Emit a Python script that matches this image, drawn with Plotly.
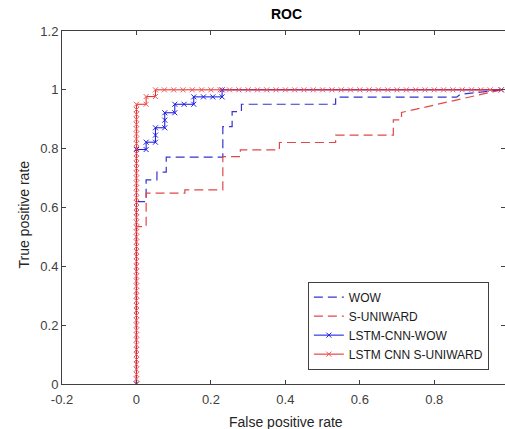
import plotly.graph_objects as go

# ---- data ----
wow_fpr = [0.0, 0.0, 0.026, 0.026, 0.055, 0.055, 0.08, 0.08, 0.232, 0.232, 0.257, 0.257,
           0.282, 0.282, 0.535, 0.535, 0.86, 0.87, 0.98]
wow_tpr = [0.0, 0.62, 0.62, 0.694, 0.694, 0.72, 0.72, 0.771, 0.771, 0.875, 0.875, 0.926,
           0.926, 0.951, 0.951, 0.975, 0.975, 0.985, 1.0]

suni_fpr = [0.0, 0.0, 0.026, 0.026, 0.13, 0.13, 0.232, 0.232, 0.279, 0.279, 0.384, 0.384,
            0.535, 0.535, 0.69, 0.69, 0.712, 0.712, 0.98]
suni_tpr = [0.0, 0.535, 0.535, 0.649, 0.649, 0.66, 0.66, 0.773, 0.773, 0.796, 0.796, 0.821,
            0.821, 0.846, 0.846, 0.898, 0.898, 0.923, 1.0]

lstm_wow_fpr = [0.0, 0.0, 0.026, 0.026, 0.051, 0.051, 0.051, 0.076, 0.076, 0.076, 0.103,
                0.103, 0.128, 0.154, 0.154, 0.18, 0.205, 0.23, 0.23, 0.98]
lstm_wow_tpr = [0.0, 0.797, 0.797, 0.822, 0.822, 0.846, 0.871, 0.871, 0.897, 0.922, 0.922,
                0.951, 0.951, 0.951, 0.976, 0.976, 0.976, 0.976, 1.0, 1.0]

lstm_suni_fpr = [0.0, 0.0, 0.0, 0.0, 0.0, 0.0, 0.0, 0.0, 0.0, 0.0,
                 0.0, 0.0, 0.0, 0.0, 0.0, 0.0, 0.0, 0.0, 0.0, 0.0,
                 0.0, 0.0, 0.0, 0.0, 0.0, 0.0, 0.0, 0.0, 0.0, 0.0,
                 0.0, 0.0, 0.0, 0.0, 0.0, 0.0, 0.0, 0.0, 0.0, 0.0,
                 0.0, 0.0, 0.0, 0.0, 0.0, 0.0, 0.0, 0.0, 0.0, 0.0,
                 0.0, 0.0, 0.0, 0.0, 0.0, 0.0, 0.0, 0.0,
                 0.026, 0.026, 0.051, 0.051,
                 0.075, 0.1, 0.125, 0.15, 0.175, 0.2, 0.225, 0.25, 0.275, 0.3,
                 0.325, 0.35, 0.375, 0.4, 0.425, 0.45, 0.475, 0.5, 0.525, 0.55,
                 0.575, 0.6, 0.625, 0.65, 0.675, 0.7, 0.725, 0.75, 0.775, 0.8,
                 0.825, 0.85, 0.875, 0.9, 0.925, 0.95, 0.98]
lstm_suni_tpr = [0.0, 0.017, 0.033, 0.05, 0.067, 0.083, 0.1, 0.117, 0.133, 0.15,
                 0.167, 0.183, 0.2, 0.217, 0.233, 0.25, 0.267, 0.283, 0.3, 0.317,
                 0.333, 0.35, 0.367, 0.383, 0.4, 0.417, 0.433, 0.45, 0.467, 0.483,
                 0.5, 0.517, 0.533, 0.55, 0.567, 0.583, 0.6, 0.617, 0.633, 0.65,
                 0.667, 0.683, 0.7, 0.717, 0.733, 0.75, 0.767, 0.783, 0.8, 0.817,
                 0.833, 0.85, 0.867, 0.883, 0.9, 0.917, 0.933, 0.951,
                 0.951, 0.977, 0.977, 1.0,
                 1.0, 1.0, 1.0, 1.0, 1.0, 1.0, 1.0, 1.0, 1.0, 1.0,
                 1.0, 1.0, 1.0, 1.0, 1.0, 1.0, 1.0, 1.0, 1.0, 1.0,
                 1.0, 1.0, 1.0, 1.0, 1.0, 1.0, 1.0, 1.0, 1.0, 1.0,
                 1.0, 1.0, 1.0, 1.0, 1.0, 1.0, 1.0]

x_ticks = [-0.2, 0, 0.2, 0.4, 0.6, 0.8]
x_tick_labels = ["-0.2", "0", "0.2", "0.4", "0.6", "0.8"]
y_ticks = [0, 0.2, 0.4, 0.6, 0.8, 1, 1.2]
y_tick_labels = ["0", "0.2", "0.4", "0.6", "0.8", "1", "1.2"]

FONT = "Liberation Sans, Arial, sans-serif"
TXT = "#262626"
AX = "#404040"

fig = go.Figure()
fig.add_trace(go.Scatter(x=wow_fpr, y=wow_tpr, mode="lines", name="WOW",
                         line=dict(color="#3535cc", width=1.2, dash="9px,5px")))
fig.add_trace(go.Scatter(x=suni_fpr, y=suni_tpr, mode="lines", name="S-UNIWARD",
                         line=dict(color="#e04848", width=1.2, dash="9px,5px")))
fig.add_trace(go.Scatter(x=lstm_wow_fpr, y=lstm_wow_tpr, mode="lines+markers", name="LSTM-CNN-WOW",
                         line=dict(color="#1010e0", width=1),
                         marker=dict(symbol="x-thin", size=5, color="#2020e8",
                                     line=dict(color="#2020e8", width=1))))
fig.add_trace(go.Scatter(x=lstm_suni_fpr, y=lstm_suni_tpr, mode="lines+markers", name="LSTM CNN S-UNIWARD",
                         line=dict(color="#e82020", width=1),
                         marker=dict(symbol="x-thin", size=5, color="#f05a5a",
                                     line=dict(color="#f05a5a", width=1))))

fig.update_layout(
    width=505, height=429,
    margin=dict(l=62, r=0, t=31, b=45),
    paper_bgcolor="white", plot_bgcolor="white",
    font=dict(family=FONT, size=13, color=AX),
    showlegend=True,
    legend=dict(x=0.555, y=0.29, xanchor="left", yanchor="top",
                bgcolor="white", bordercolor="#404040", borderwidth=1,
                font=dict(family=FONT, size=12, color="#1a1a1a"),
                tracegroupgap=0, itemwidth=30),
    xaxis=dict(range=[-0.2, 0.99], tickvals=x_ticks, ticktext=x_tick_labels,
               ticks="inside", ticklen=4, tickcolor=AX, showgrid=False, zeroline=False,
               showline=True, linecolor=AX, linewidth=1, mirror="ticks",
               ticklabelstandoff=3, tickfont=dict(size=13, color=AX)),
    yaxis=dict(range=[0, 1.2], tickvals=y_ticks, ticktext=y_tick_labels,
               ticks="inside", ticklen=4, tickcolor=AX, showgrid=False, zeroline=False,
               showline=True, linecolor=AX, linewidth=1, mirror="ticks",
               tickfont=dict(size=13, color=AX)),
    annotations=[
        dict(text="<b>ROC</b>", xref="paper", yref="paper", x=0.506, y=1, yshift=7,
             xanchor="center", yanchor="bottom", showarrow=False,
             font=dict(family=FONT, size=14, color="#000000")),
        dict(text="False positive rate", xref="paper", yref="paper", x=0.505, y=0,
             yshift=-28, xanchor="center", yanchor="top", showarrow=False,
             font=dict(family=FONT, size=14, color=TXT)),
        dict(text="True positive rate", xref="paper", yref="paper", x=0, y=0.48,
             xshift=-38, xanchor="center", yanchor="middle", textangle=-90, showarrow=False,
             font=dict(family=FONT, size=14, color=TXT)),
    ],
)

fig.write_html("out.html", config={"displayModeBar": False},
               post_script="document.body.style.margin='0';document.body.style.overflow='hidden';")
